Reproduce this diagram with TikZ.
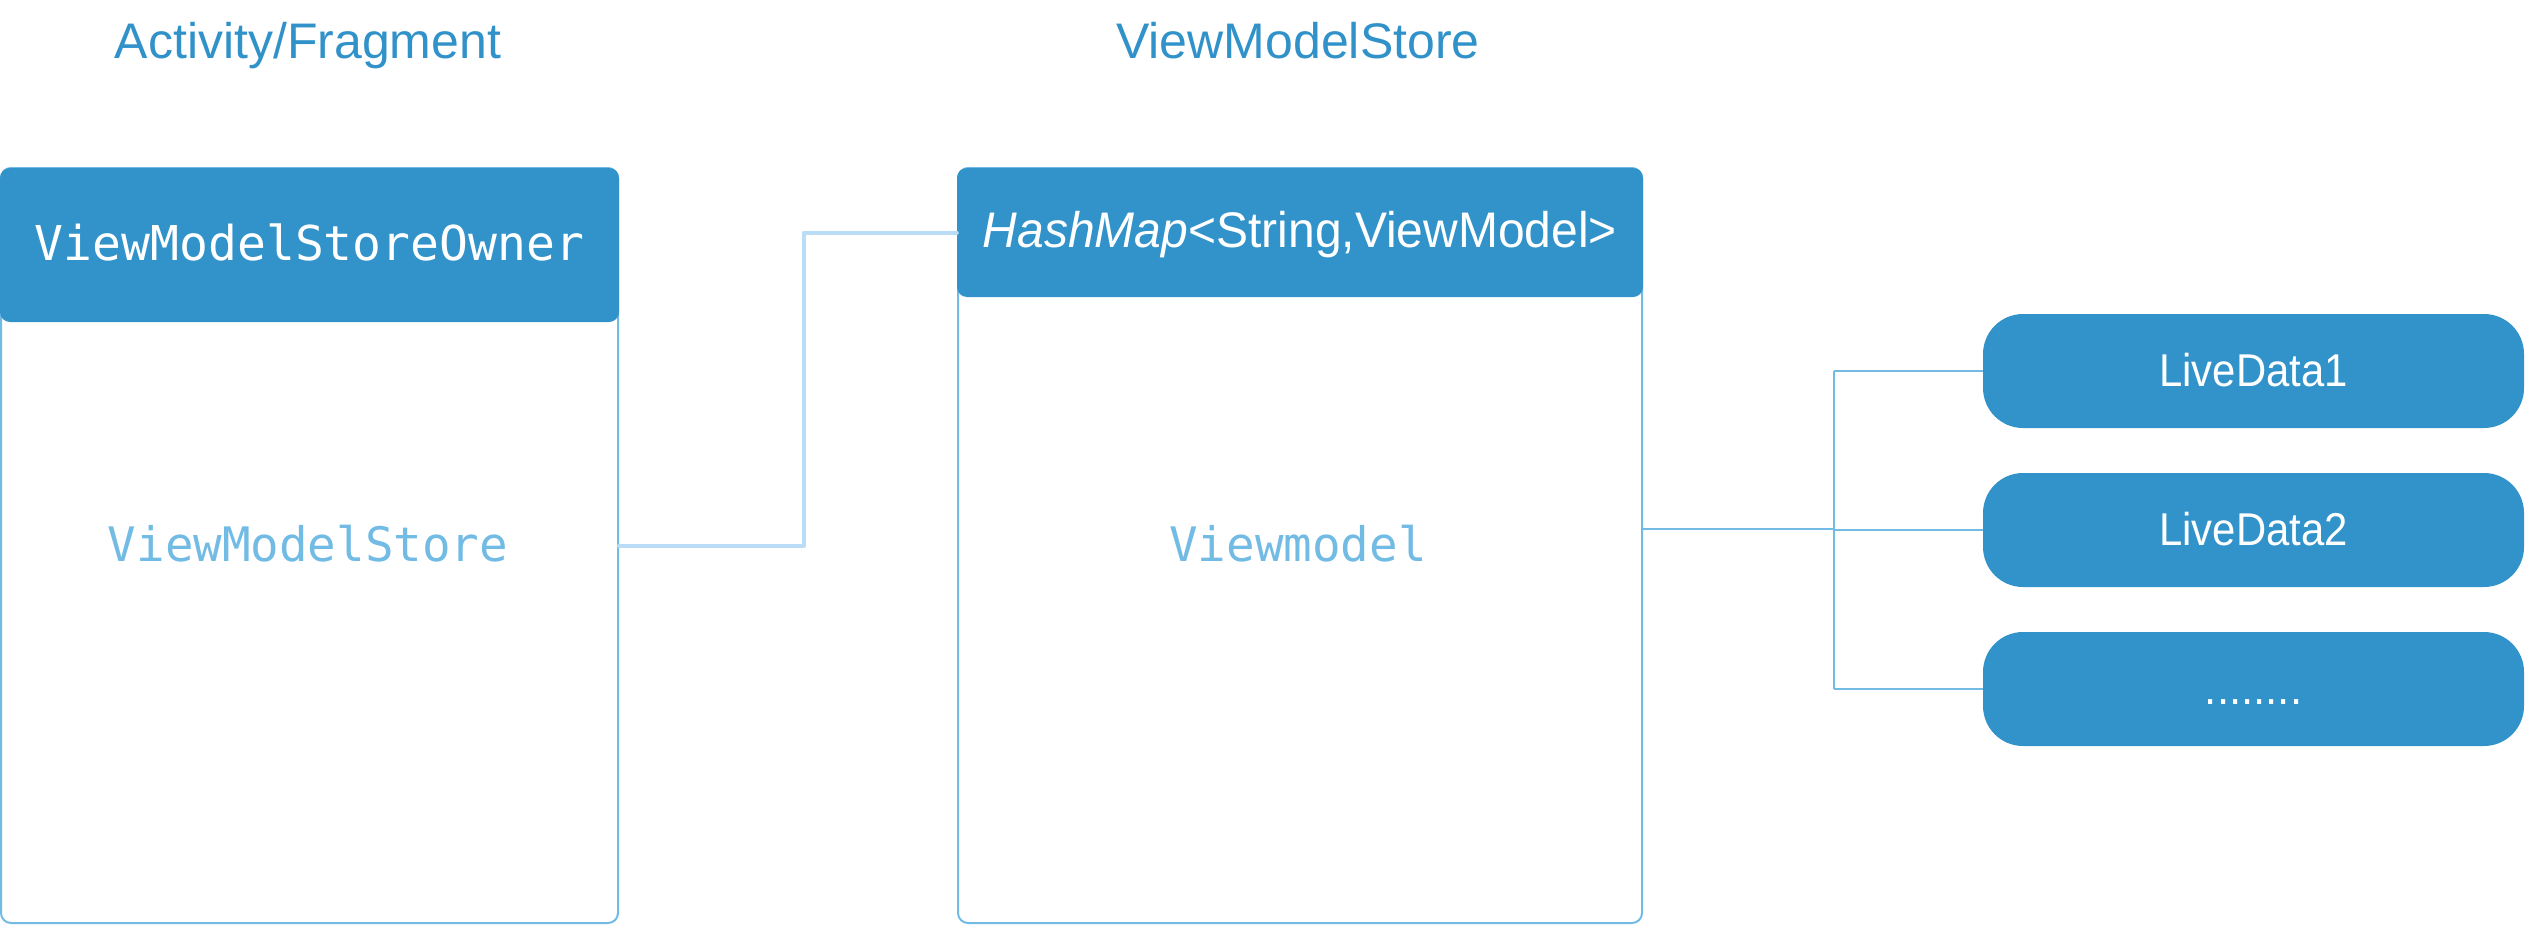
\documentclass[tikz,border=0pt]{standalone}
\usepackage{fontspec}
\setmainfont{Liberation Sans}
\newfontfamily\monofam{DejaVu Sans Mono}
\definecolor{hdrblue}{HTML}{3193C9}
\definecolor{ttlblue}{HTML}{3192CA}
\definecolor{lightblue}{HTML}{72BBE4}
\definecolor{paleblue}{HTML}{BADDF7}
\tikzset{
  outerbox/.style={draw=lightblue, line width=2pt, rounded corners=10pt, inner sep=0pt, fill=white},
  hdrbox/.style={fill=hdrblue, rounded corners=10pt, inner sep=0pt, text=white, text height=30pt, text depth=0pt},
  ldbox/.style={fill=hdrblue, rounded corners=40pt, inner sep=0pt, text=white, text height=31pt, text depth=0pt,
    minimum width=541pt, minimum height=114pt, font=\fontsize{46}{55}\selectfont},
  ttl/.style={text=ttlblue, anchor=base, inner sep=0pt, font=\fontsize{50}{60}\selectfont},
  lbl/.style={text=lightblue, anchor=base, inner sep=0pt, font=\monofam\fontsize{47.5}{57}\selectfont},
  thinline/.style={draw=lightblue, line width=2pt},
  thickline/.style={draw=paleblue, line width=4pt, line cap=round, line join=round}
}
\begin{document}
\begin{tikzpicture}[x=1pt,y=-1pt]
\useasboundingbox (0,0) rectangle (2526,926);
% titles
\node[ttl] (t1) at (308,58) {Activity/Fragment};
\node[ttl] (t2) at (1298,58) {ViewModelStore};
% left box
\node[outerbox, minimum width=617pt, minimum height=755pt] (store) at (309.5,545.5) {};
\node[hdrbox, minimum width=619pt, minimum height=154pt, font=\monofam\fontsize{48}{57}\selectfont] (owner) at (309.5,245) {ViewModelStoreOwner};
\node[lbl] (storelbl) at (308,561) {ViewModelStore};
% middle box
\node[outerbox, minimum width=684pt, minimum height=755pt] (vm) at (1300,545.5) {};
\node[hdrbox, minimum width=686pt, minimum height=129pt, font=\fontsize{50}{60}\selectfont] (hash) at (1300,232.5) {\scalebox{0.96}[1]{\itshape HashMap\upshape<String,ViewModel>}};
\node[lbl] (vmlbl) at (1298,561) {Viewmodel};
% LiveData boxes
\node[ldbox] (ld1) at (2253.5,371) {\scalebox{0.91}[1]{LiveData1}};
\node[ldbox] (ld2) at (2253.5,530) {\scalebox{0.91}[1]{LiveData2}};
\node[ldbox] (ld3) at (2253.5,689) {\scalebox{0.95}[1]{........}};
% connectors
\coordinate (bend) at (804,0);
\draw[thickline] (store.east) -| (bend |- hash.west) -- (hash.west);
\coordinate (j) at (1834,529);
\draw[thinline] (vm.east |- j) -- (j);
\draw[thinline] (j |- ld1.west) -- (j |- ld3.west);
\draw[thinline] (j |- ld1.west) -- (ld1.west);
\draw[thinline] (j |- ld2.west) -- (ld2.west);
\draw[thinline] (j |- ld3.west) -- (ld3.west);
\end{tikzpicture}
\end{document}
